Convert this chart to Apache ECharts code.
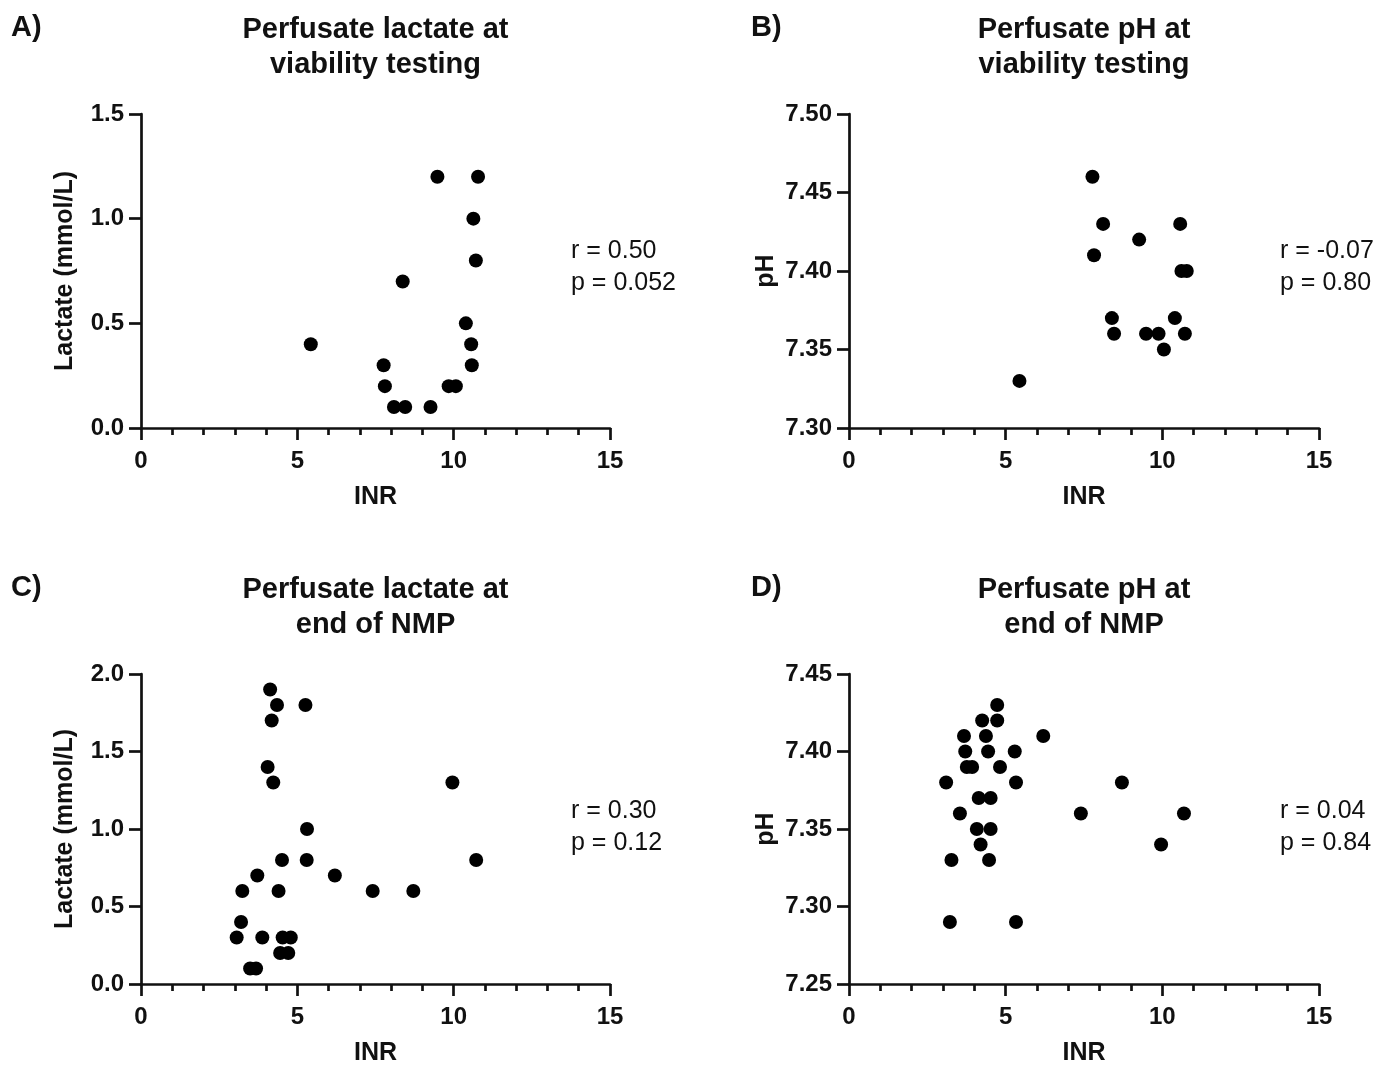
<!DOCTYPE html>
<html>
<head>
<meta charset="utf-8">
<title>INR vs perfusate lactate / pH</title>
<script src="https://cdn.jsdelivr.net/npm/echarts@6/dist/echarts.min.js"></script>
<style>
  html, body { margin: 0; padding: 0; background: #fff; }
  #chart { width: 1373px; height: 1067px; }
</style>
</head>
<body>
<div id="chart"></div>
<script>
// A) lactate at viability testing
const inrA = [9.48, 10.78, 10.63, 10.71, 8.37, 10.39, 5.43, 10.56, 7.76, 10.58, 7.80, 9.84, 10.07, 8.09, 8.45, 9.26]
const lactateA = [1.2, 1.2, 1.0, 0.8, 0.7, 0.5, 0.4, 0.4, 0.3, 0.3, 0.2, 0.2, 0.2, 0.1, 0.1, 0.1]

// B) pH at viability testing
const inrB = [7.77, 8.11, 10.57, 9.26, 7.82, 10.61, 10.78, 8.39, 10.40, 8.46, 9.48, 9.88, 10.72, 10.05, 5.44]
const phB = [7.46, 7.43, 7.43, 7.42, 7.41, 7.40, 7.40, 7.37, 7.37, 7.36, 7.36, 7.36, 7.36, 7.35, 7.33]

// C) lactate at end of NMP
const inrC = [4.13, 4.35, 5.26, 4.18, 4.05, 4.23, 9.96, 5.31, 4.51, 5.30, 10.72, 3.72, 6.20, 3.24, 4.40, 7.41, 8.71, 3.20, 3.06, 3.88, 4.53, 4.79, 4.45, 4.71, 3.49, 3.68]
const lactateC = [1.9, 1.8, 1.8, 1.7, 1.4, 1.3, 1.3, 1.0, 0.8, 0.8, 0.8, 0.7, 0.7, 0.6, 0.6, 0.6, 0.6, 0.4, 0.3, 0.3, 0.3, 0.3, 0.2, 0.2, 0.1, 0.1]

// D) pH at end of NMP
const inrD = [4.73, 4.25, 4.73, 3.67, 4.37, 6.20, 3.71, 4.44, 5.29, 3.76, 3.93, 4.82, 3.10, 5.33, 8.71, 4.14, 4.52, 3.54, 7.40, 10.69, 4.08, 4.52, 4.20, 9.96, 3.27, 4.47, 3.22, 5.33]
const phD = [7.43, 7.42, 7.42, 7.41, 7.41, 7.41, 7.40, 7.40, 7.40, 7.39, 7.39, 7.39, 7.38, 7.38, 7.38, 7.37, 7.37, 7.36, 7.36, 7.36, 7.35, 7.35, 7.34, 7.34, 7.33, 7.33, 7.29, 7.29]

const panelLabels = ['A)', 'B)', 'C)', 'D)']
const panelTitles = [
  'Perfusate lactate at\nviability testing',
  'Perfusate pH at\nviability testing',
  'Perfusate lactate at\nend of NMP',
  'Perfusate pH at\nend of NMP',
]
const statTexts = ['r = 0.50\np = 0.052', 'r = -0.07\np = 0.80', 'r = 0.30\np = 0.12', 'r = 0.04\np = 0.84']
const yNames = ['Lactate (mmol/L)', 'pH', 'Lactate (mmol/L)', 'pH']
const yRanges = [[0, 1.5, 0.5, 1], [7.30, 7.50, 0.05, 2], [0, 2.0, 0.5, 1], [7.25, 7.45, 0.05, 2]]

const FONT = '"Liberation Sans", Arial, Helvetica, sans-serif'
const INK = '#111'

// plot boxes [left, top, width, height]
const boxes = [
  [141, 114, 469, 314],
  [849, 114, 470, 314],
  [141, 674, 469, 314],
  [849, 674, 470, 314],
]

const pairs = [[inrA, lactateA], [inrB, phB], [inrC, lactateC], [inrD, phD]]

const zip = (xs, ys) => xs.map((x, i) => [x, ys[i]])

const axisLine = { lineStyle: { color: INK, width: 2.7 } }

const grids = boxes.map(([l, t, w, h]) => ({ left: l, top: t, width: w, height: h }))

const xAxes = boxes.map((b, i) => ({
  type: 'value',
  gridIndex: i,
  min: 0,
  max: 15,
  interval: 5,
  name: 'INR',
  nameLocation: 'middle',
  nameGap: 57,
  nameTextStyle: { fontFamily: FONT, fontWeight: 'bold', fontSize: 25, color: INK },
  axisLine,
  axisTick: { show: true, length: 12, lineStyle: { color: INK, width: 2.7 } },
  minorTick: { show: true, splitNumber: 5, length: 7, lineStyle: { color: INK, width: 2.7 } },
  axisLabel: { margin: 21, fontFamily: FONT, fontWeight: 'bold', fontSize: 24, color: INK },
  splitLine: { show: false },
  minorSplitLine: { show: false },
}))

const yAxes = yRanges.map(([mn, mx, step, dec], i) => ({
  type: 'value',
  gridIndex: i,
  min: mn,
  max: mx,
  interval: step,
  name: yNames[i],
  nameLocation: 'middle',
  nameGap: dec === 1 ? 63 : 70,
  nameTextStyle: { fontFamily: FONT, fontWeight: 'bold', fontSize: 25, color: INK },
  axisLine,
  axisTick: { show: true, length: 12, lineStyle: { color: INK, width: 2.7 } },
  axisLabel: {
    margin: 17,
    fontFamily: FONT, fontWeight: 'bold', fontSize: 24, color: INK,
    formatter: (v) => v.toFixed(dec),
  },
  splitLine: { show: false },
}))

const series = pairs.map(([xs, ys], i) => ({
  type: 'scatter',
  xAxisIndex: i,
  yAxisIndex: i,
  symbol: 'circle',
  symbolSize: 14,
  itemStyle: { color: '#000', opacity: 1 },
  data: zip(xs, ys),
}))

// titles, panel letters and r / p annotations
const graphic = []
boxes.forEach(([l, t, w, h], i) => {
  graphic.push({
    type: 'text',
    x: l + w / 2,
    y: t - 67,
    style: {
      text: panelTitles[i],
      align: 'center',
      verticalAlign: 'middle',
      font: `bold 29px ${FONT}`,
      lineHeight: 35,
      fill: INK,
    },
  })
  graphic.push({
    type: 'text',
    x: l < 500 ? 11 : 751,
    y: t - 86,
    style: { text: panelLabels[i], verticalAlign: 'middle', font: `bold 29px ${FONT}`, fill: INK },
  })
  graphic.push({
    type: 'text',
    x: l < 500 ? 571 : 1280,
    y: t + 121,
    style: { text: statTexts[i], font: `25px ${FONT}`, lineHeight: 32, fill: INK },
  })
})

const chart = echarts.init(document.getElementById('chart'))
chart.setOption({
  animation: false,
  backgroundColor: '#fff',
  grid: grids,
  xAxis: xAxes,
  yAxis: yAxes,
  series,
  graphic,
})
</script>
</body>
</html>
